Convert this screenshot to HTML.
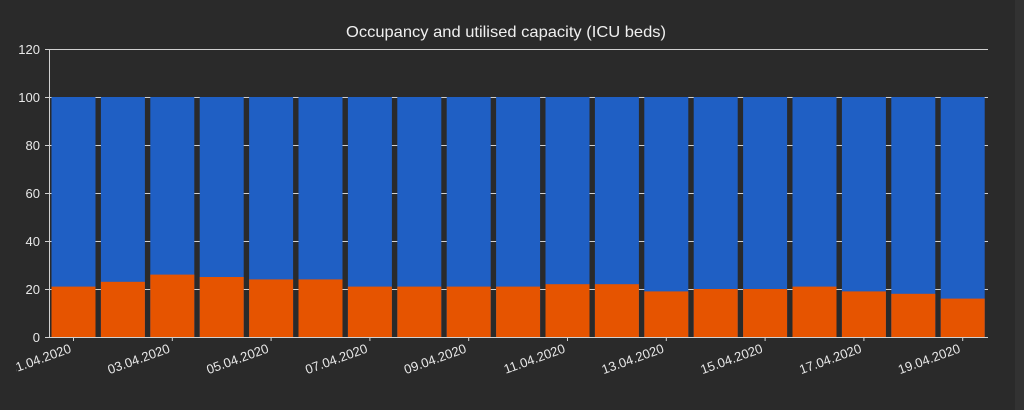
<!DOCTYPE html>
<html><head><meta charset="utf-8"><style>
html,body{margin:0;padding:0;background:#2a2a2a;}
svg{display:block;font-family:"Liberation Sans",sans-serif;}
</style></head><body>
<svg width="1024" height="410" viewBox="0 0 1024 410" xmlns="http://www.w3.org/2000/svg">
<rect width="1024" height="410" fill="#2a2a2a"/>
<rect x="1015" y="0" width="9" height="410" fill="#323232"/>
<text x="506" y="37" fill="#f0f0f0" font-size="16" text-anchor="middle" textLength="320" lengthAdjust="spacingAndGlyphs">Occupancy and utilised capacity (ICU beds)</text>
<g stroke="#d0d0d0" stroke-width="1">
<line x1="45" y1="49.5" x2="988" y2="49.5"/>
<line x1="45" y1="97.5" x2="988" y2="97.5"/>
<line x1="45" y1="145.5" x2="988" y2="145.5"/>
<line x1="45" y1="193.5" x2="988" y2="193.5"/>
<line x1="45" y1="241.5" x2="988" y2="241.5"/>
<line x1="45" y1="289.5" x2="988" y2="289.5"/>
</g>
<g fill="#1f5fc4">
<rect x="51.5" y="97" width="44" height="240"/><rect x="100.9" y="97" width="44" height="240"/><rect x="150.3" y="97" width="44" height="240"/><rect x="199.7" y="97" width="44" height="240"/><rect x="249.1" y="97" width="44" height="240"/><rect x="298.5" y="97" width="44" height="240"/><rect x="347.9" y="97" width="44" height="240"/><rect x="397.3" y="97" width="44" height="240"/><rect x="446.7" y="97" width="44" height="240"/><rect x="496.1" y="97" width="44" height="240"/><rect x="545.5" y="97" width="44" height="240"/><rect x="594.9" y="97" width="44" height="240"/><rect x="644.3" y="97" width="44" height="240"/><rect x="693.7" y="97" width="44" height="240"/><rect x="743.1" y="97" width="44" height="240"/><rect x="792.5" y="97" width="44" height="240"/><rect x="841.9" y="97" width="44" height="240"/><rect x="891.3" y="97" width="44" height="240"/><rect x="940.7" y="97" width="44" height="240"/>
</g>
<g fill="#e65400">
<rect x="51.5" y="286.6" width="44" height="50.4"/><rect x="100.9" y="281.8" width="44" height="55.2"/><rect x="150.3" y="274.6" width="44" height="62.4"/><rect x="199.7" y="277" width="44" height="60"/><rect x="249.1" y="279.4" width="44" height="57.6"/><rect x="298.5" y="279.4" width="44" height="57.6"/><rect x="347.9" y="286.6" width="44" height="50.4"/><rect x="397.3" y="286.6" width="44" height="50.4"/><rect x="446.7" y="286.6" width="44" height="50.4"/><rect x="496.1" y="286.6" width="44" height="50.4"/><rect x="545.5" y="284.2" width="44" height="52.8"/><rect x="594.9" y="284.2" width="44" height="52.8"/><rect x="644.3" y="291.4" width="44" height="45.6"/><rect x="693.7" y="289" width="44" height="48"/><rect x="743.1" y="289" width="44" height="48"/><rect x="792.5" y="286.6" width="44" height="50.4"/><rect x="841.9" y="291.4" width="44" height="45.6"/><rect x="891.3" y="293.8" width="44" height="43.2"/><rect x="940.7" y="298.6" width="44" height="38.4"/>
</g>
<g stroke="#d0d0d0" stroke-width="1">
<line x1="49.5" y1="49" x2="49.5" y2="337"/>
<line x1="45" y1="337.5" x2="988" y2="337.5"/>
<line x1="73.5" y1="337" x2="73.5" y2="341"/><line x1="172.3" y1="337" x2="172.3" y2="341"/><line x1="271.1" y1="337" x2="271.1" y2="341"/><line x1="369.9" y1="337" x2="369.9" y2="341"/><line x1="468.7" y1="337" x2="468.7" y2="341"/><line x1="567.5" y1="337" x2="567.5" y2="341"/><line x1="666.3" y1="337" x2="666.3" y2="341"/><line x1="765.1" y1="337" x2="765.1" y2="341"/><line x1="863.9" y1="337" x2="863.9" y2="341"/><line x1="962.7" y1="337" x2="962.7" y2="341"/>
</g>
<g fill="#e8e8e8" font-size="13" text-anchor="end">
<text x="40" y="54">120</text><text x="40" y="102">100</text><text x="40" y="150">80</text><text x="40" y="198">60</text><text x="40" y="246">40</text><text x="40" y="294">20</text><text x="40" y="342">0</text>
</g>
<clipPath id="c"><rect x="16" y="330" width="1000" height="80"/></clipPath>
<g fill="#e8e8e8" font-size="13" text-anchor="end" clip-path="url(#c)">
<text transform="translate(72,352) rotate(-20)">01.04.2020</text>
<text transform="translate(170.8,352) rotate(-20)">03.04.2020</text>
<text transform="translate(269.6,352) rotate(-20)">05.04.2020</text>
<text transform="translate(368.4,352) rotate(-20)">07.04.2020</text>
<text transform="translate(467.2,352) rotate(-20)">09.04.2020</text>
<text transform="translate(566,352) rotate(-20)">11.04.2020</text>
<text transform="translate(664.8,352) rotate(-20)">13.04.2020</text>
<text transform="translate(763.6,352) rotate(-20)">15.04.2020</text>
<text transform="translate(862.4,352) rotate(-20)">17.04.2020</text>
<text transform="translate(961.2,352) rotate(-20)">19.04.2020</text>
</g>
</svg>
</body></html>
